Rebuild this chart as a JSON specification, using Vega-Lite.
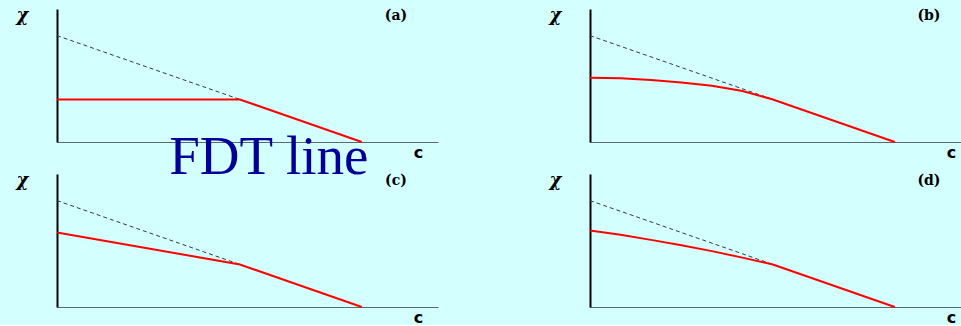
{
  "$schema": "https://vega.github.io/schema/vega-lite/v6.json",
  "background": "#d4ffff",
  "padding": {"left": 16, "top": 6, "right": 0, "bottom": 0},
  "bounds": "flush",
  "columns": 2,
  "spacing": {"row": 32, "column": 152},
  "datasets": {
    "curves": [
      {"panel": "a", "kind": "fdt", "C": 0, "chi": 1},
      {"panel": "a", "kind": "fdt", "C": 0.6, "chi": 0.4},
      {"panel": "a", "kind": "red", "C": 0, "chi": 0.4},
      {"panel": "a", "kind": "red", "C": 0.6, "chi": 0.4},
      {"panel": "a", "kind": "red", "C": 1, "chi": 0},
      {"panel": "b", "kind": "fdt", "C": 0, "chi": 1},
      {"panel": "b", "kind": "fdt", "C": 0.6, "chi": 0.4},
      {"panel": "b", "kind": "red", "C": 0, "chi": 0.604},
      {"panel": "b", "kind": "red", "C": 0.1, "chi": 0.598},
      {"panel": "b", "kind": "red", "C": 0.2, "chi": 0.583},
      {"panel": "b", "kind": "red", "C": 0.3, "chi": 0.56},
      {"panel": "b", "kind": "red", "C": 0.4, "chi": 0.528},
      {"panel": "b", "kind": "red", "C": 0.5, "chi": 0.48},
      {"panel": "b", "kind": "red", "C": 0.6, "chi": 0.4},
      {"panel": "b", "kind": "red", "C": 1, "chi": 0},
      {"panel": "c", "kind": "fdt", "C": 0, "chi": 1},
      {"panel": "c", "kind": "fdt", "C": 0.6, "chi": 0.4},
      {"panel": "c", "kind": "red", "C": 0, "chi": 0.7},
      {"panel": "c", "kind": "red", "C": 0.6, "chi": 0.4},
      {"panel": "c", "kind": "red", "C": 1, "chi": 0},
      {"panel": "d", "kind": "fdt", "C": 0, "chi": 1},
      {"panel": "d", "kind": "fdt", "C": 0.6, "chi": 0.4},
      {"panel": "d", "kind": "red", "C": 0, "chi": 0.72},
      {"panel": "d", "kind": "red", "C": 0.1, "chi": 0.678},
      {"panel": "d", "kind": "red", "C": 0.2, "chi": 0.631},
      {"panel": "d", "kind": "red", "C": 0.3, "chi": 0.58},
      {"panel": "d", "kind": "red", "C": 0.4, "chi": 0.525},
      {"panel": "d", "kind": "red", "C": 0.5, "chi": 0.464},
      {"panel": "d", "kind": "red", "C": 0.6, "chi": 0.4},
      {"panel": "d", "kind": "red", "C": 1, "chi": 0}
    ],
    "tags": [
      {"panel": "a", "label": "(a)"},
      {"panel": "b", "label": "(b)"},
      {"panel": "c", "label": "(c)"},
      {"panel": "d", "label": "(d)"}
    ]
  },
  "concat": [
    {
      "width": 381, "height": 133,
      "layer": [
        {
          "data": {"name": "curves"},
          "transform": [{"filter": "datum.panel == 'a' && datum.kind == 'fdt'"}],
          "mark": {"type": "line", "color": "#3a3a3a", "strokeWidth": 1, "strokeDash": [4, 3]},
          "encoding": {
            "x": {"field": "C", "type": "quantitative", "scale": {"domain": [0, 1.25], "nice": false}, "axis": {"title": "c"}},
            "y": {"field": "chi", "type": "quantitative", "scale": {"domain": [0, 1.25], "nice": false}, "axis": {"title": "χ"}}
          }
        },
        {
          "data": {"name": "curves"},
          "transform": [{"filter": "datum.panel == 'a' && datum.kind == 'red'"}],
          "mark": {"type": "line", "color": "#ff0000", "strokeWidth": 2},
          "encoding": {
            "x": {"field": "C", "type": "quantitative"},
            "y": {"field": "chi", "type": "quantitative"}
          }
        },
        {
          "data": {"name": "tags"},
          "transform": [{"filter": "datum.panel == 'a'"}],
          "mark": {"type": "text", "font": "DejaVu Serif", "fontWeight": "bold", "fontSize": 14, "color": "#000000", "align": "center", "baseline": "middle", "clip": false},
          "encoding": {
            "x": {"datum": 1.112, "type": "quantitative"},
            "y": {"datum": 1.184, "type": "quantitative"},
            "text": {"field": "label"}
          }
        },
        {
          "data": {"values": [{"note": "FDT line"}]},
          "mark": {"type": "text", "font": "Liberation Serif", "fontSize": 55, "color": "#000099", "align": "center", "baseline": "alphabetic", "clip": false},
          "encoding": {
            "x": {"datum": 0.695, "type": "quantitative"},
            "y": {"datum": -0.3, "type": "quantitative"},
            "text": {"field": "note"}
          }
        }
      ]
    },
    {
      "width": 381, "height": 133,
      "layer": [
        {
          "data": {"name": "curves"},
          "transform": [{"filter": "datum.panel == 'b' && datum.kind == 'fdt'"}],
          "mark": {"type": "line", "color": "#3a3a3a", "strokeWidth": 1, "strokeDash": [4, 3]},
          "encoding": {
            "x": {"field": "C", "type": "quantitative", "scale": {"domain": [0, 1.25], "nice": false}, "axis": {"title": "c"}},
            "y": {"field": "chi", "type": "quantitative", "scale": {"domain": [0, 1.25], "nice": false}, "axis": {"title": "χ"}}
          }
        },
        {
          "data": {"name": "curves"},
          "transform": [{"filter": "datum.panel == 'b' && datum.kind == 'red'"}],
          "mark": {"type": "line", "color": "#ff0000", "strokeWidth": 2},
          "encoding": {
            "x": {"field": "C", "type": "quantitative"},
            "y": {"field": "chi", "type": "quantitative"}
          }
        },
        {
          "data": {"name": "tags"},
          "transform": [{"filter": "datum.panel == 'b'"}],
          "mark": {"type": "text", "font": "DejaVu Serif", "fontWeight": "bold", "fontSize": 14, "color": "#000000", "align": "center", "baseline": "middle", "clip": false},
          "encoding": {
            "x": {"datum": 1.112, "type": "quantitative"},
            "y": {"datum": 1.184, "type": "quantitative"},
            "text": {"field": "label"}
          }
        }
      ]
    },
    {
      "width": 381, "height": 133,
      "layer": [
        {
          "data": {"name": "curves"},
          "transform": [{"filter": "datum.panel == 'c' && datum.kind == 'fdt'"}],
          "mark": {"type": "line", "color": "#3a3a3a", "strokeWidth": 1, "strokeDash": [4, 3]},
          "encoding": {
            "x": {"field": "C", "type": "quantitative", "scale": {"domain": [0, 1.25], "nice": false}, "axis": {"title": "c"}},
            "y": {"field": "chi", "type": "quantitative", "scale": {"domain": [0, 1.25], "nice": false}, "axis": {"title": "χ"}}
          }
        },
        {
          "data": {"name": "curves"},
          "transform": [{"filter": "datum.panel == 'c' && datum.kind == 'red'"}],
          "mark": {"type": "line", "color": "#ff0000", "strokeWidth": 2},
          "encoding": {
            "x": {"field": "C", "type": "quantitative"},
            "y": {"field": "chi", "type": "quantitative"}
          }
        },
        {
          "data": {"name": "tags"},
          "transform": [{"filter": "datum.panel == 'c'"}],
          "mark": {"type": "text", "font": "DejaVu Serif", "fontWeight": "bold", "fontSize": 14, "color": "#000000", "align": "center", "baseline": "middle", "clip": false},
          "encoding": {
            "x": {"datum": 1.112, "type": "quantitative"},
            "y": {"datum": 1.184, "type": "quantitative"},
            "text": {"field": "label"}
          }
        }
      ]
    },
    {
      "width": 381, "height": 133,
      "layer": [
        {
          "data": {"name": "curves"},
          "transform": [{"filter": "datum.panel == 'd' && datum.kind == 'fdt'"}],
          "mark": {"type": "line", "color": "#3a3a3a", "strokeWidth": 1, "strokeDash": [4, 3]},
          "encoding": {
            "x": {"field": "C", "type": "quantitative", "scale": {"domain": [0, 1.25], "nice": false}, "axis": {"title": "c"}},
            "y": {"field": "chi", "type": "quantitative", "scale": {"domain": [0, 1.25], "nice": false}, "axis": {"title": "χ"}}
          }
        },
        {
          "data": {"name": "curves"},
          "transform": [{"filter": "datum.panel == 'd' && datum.kind == 'red'"}],
          "mark": {"type": "line", "color": "#ff0000", "strokeWidth": 2},
          "encoding": {
            "x": {"field": "C", "type": "quantitative"},
            "y": {"field": "chi", "type": "quantitative"}
          }
        },
        {
          "data": {"name": "tags"},
          "transform": [{"filter": "datum.panel == 'd'"}],
          "mark": {"type": "text", "font": "DejaVu Serif", "fontWeight": "bold", "fontSize": 14, "color": "#000000", "align": "center", "baseline": "middle", "clip": false},
          "encoding": {
            "x": {"datum": 1.112, "type": "quantitative"},
            "y": {"datum": 1.184, "type": "quantitative"},
            "text": {"field": "label"}
          }
        }
      ]
    }
  ],
  "config": {
    "view": {"stroke": null},
    "axis": {"labels": false, "ticks": false, "grid": false, "titleFontWeight": "bold", "titleColor": "#000000"},
    "axisX": {"domainColor": "#5a6a72", "domainWidth": 1, "titleX": 361, "titleY": 10, "titleAlign": "center", "titleBaseline": "middle", "titleFont": "DejaVu Sans", "titleFontSize": 16},
    "axisY": {"domainColor": "#000000", "domainWidth": 2, "titleAngle": 0, "titleX": -35, "titleY": 6.5, "titleAlign": "center", "titleBaseline": "middle", "titleFont": "DejaVu Serif", "titleFontStyle": "italic", "titleFontSize": 18}
  }
}
